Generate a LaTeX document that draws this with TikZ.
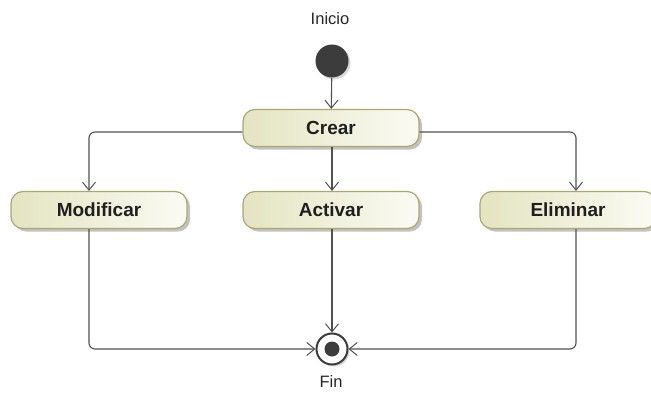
\documentclass[tikz,border=0pt]{standalone}
\usepackage{fontspec}
\setmainfont{Liberation Sans}
\usetikzlibrary{arrows.meta,shadows,calc}
\definecolor{boxborder}{HTML}{A8A870}
\definecolor{boxleft}{HTML}{E4E4C2}
\definecolor{boxright}{HTML}{FBFBF4}
\definecolor{linegray}{HTML}{505050}
\definecolor{dotgray}{HTML}{3C3C3C}
\tikzset{
  act/.style={draw=boxborder, line width=1.2pt, rounded corners=12pt,
    left color=boxleft, right color=boxright, minimum width=176pt,
    minimum height=37pt, inner sep=0pt, font=\bfseries\fontsize{19}{22}\selectfont,
    text=black!88, drop shadow={shadow xshift=3pt, shadow yshift=-3pt, opacity=0.4, fill=black!60}},
  conn/.style={draw=linegray, line width=1.1pt, rounded corners=6pt,
    -{Straight Barb[length=8pt,width=13pt,line width=1pt]}},
  lbl/.style={font=\fontsize{16.5}{19}\selectfont, text=black!85},
}
\begin{document}
\begin{tikzpicture}[x=1pt,y=-1pt]
\useasboundingbox (0,0) rectangle (651,396);
\node[lbl] (inicio) at (330,19) {Inicio};
\node[circle, fill=dotgray, minimum size=33pt, inner sep=0pt,
  drop shadow={shadow xshift=2pt, shadow yshift=-2pt, opacity=0.3}] (ini) at (332,61) {};
\node[act] (crear) at (331,128) {Crear};
\node[act] (modif) at (99,210) {Modificar};
\node[act] (activ) at (331,210) {Activar};
\node[act] (elim) at (568,210) {Eliminar};
\node[circle, draw=dotgray, fill=white, line width=2pt, minimum size=31pt, inner sep=0pt,
  drop shadow={shadow xshift=2pt, shadow yshift=-2pt, opacity=0.3}] (fin) at (332,349) {};
\node[circle, fill=dotgray, minimum size=15pt, inner sep=0pt] (findot) at (fin) {};
\node[lbl] (finlbl) at (331,382) {Fin};
\coordinate (cl) at (crear.west |- 0,132);
\coordinate (cr) at (crear.east |- 0,132);
\draw[conn] (ini) -- (crear);
\draw[conn] (cl) -- (89,132) -- (modif.north -| 89,0);
\draw[conn] (cr) -- (576,132) -- (elim.north -| 576,0);
\draw[conn] (crear.south -| 332,0) -- (activ.north -| 332,0);
\draw[conn] (modif.south -| 89,0) -- (89,349) -- (fin.west);
\draw[conn] (elim.south -| 576,0) -- (576,349) -- (fin.east);
\draw[conn] (activ.south -| 332,0) -- (fin.north);
\end{tikzpicture}
\end{document}
